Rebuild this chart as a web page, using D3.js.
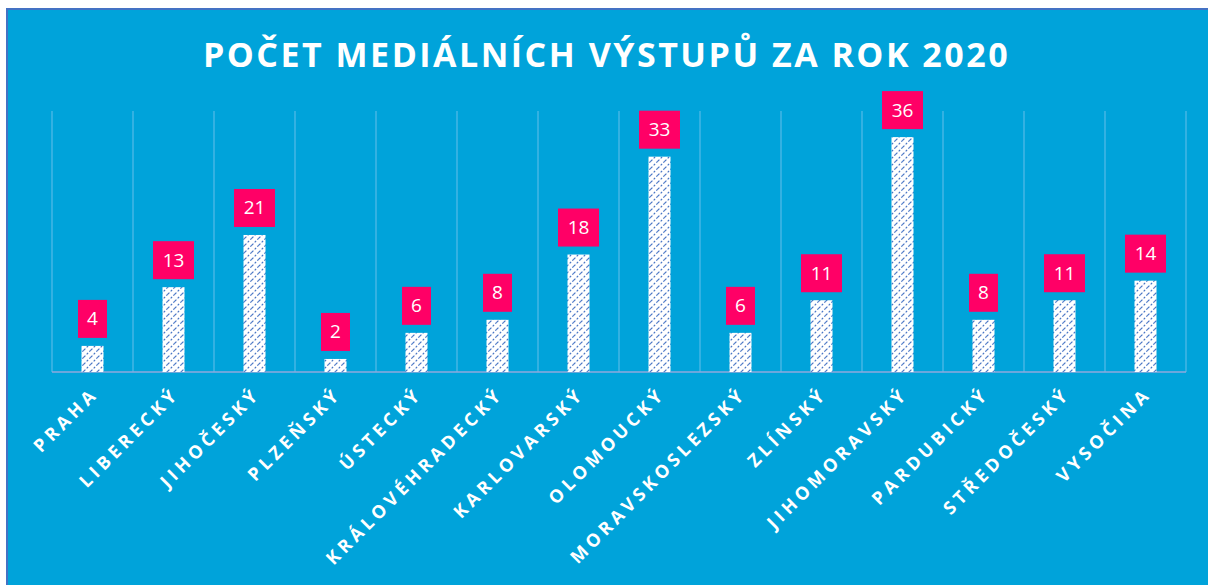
<!DOCTYPE html>
<html><head><meta charset="utf-8">
<script src="https://cdn.jsdelivr.net/npm/d3@7"></script>
<style>html,body{margin:0;padding:0;background:#fff;}svg{display:block;}</style>
</head><body>
<svg id="chart" width="1208" height="585"></svg>
<script>
const categories = ["PRAHA","LIBERECKÝ","JIHOČESKÝ","PLZEŇSKÝ","ÚSTECKÝ","KRÁLOVÉHRADECKÝ","KARLOVARSKÝ","OLOMOUCKÝ","MORAVSKOSLEZSKÝ","ZLÍNSKÝ","JIHOMORAVSKÝ","PARDUBICKÝ","STŘEDOČESKÝ","VYSOČINA"];
const values = [4,13,21,2,6,8,18,33,6,11,36,8,11,14];
const title = "POČET MEDIÁLNÍCH VÝSTUPŮ ZA ROK 2020";

const svg = d3.select("#chart");
const W = 1208, H = 585;
const bg = "#00A3DA";
const pink = "#FF0066";
const defs = svg.append("defs");
const pat = defs.append("pattern").attr("id","hatch").attr("patternUnits","userSpaceOnUse")
  .attr("width",7).attr("height",7);
pat.append("rect").attr("width",7).attr("height",7).attr("fill","#fff");
pat.append("path").attr("d","M0,7 L7,0 M-1,1 L1,-1 M6,8 L8,6")
  .attr("stroke","#4472C4").attr("stroke-width",1.2).attr("stroke-dasharray","2,1.8");

svg.append("rect").attr("x",6).attr("y",8).attr("width",W).attr("height",H).attr("fill",bg);
svg.append("line").attr("x1",7).attr("x2",7).attr("y1",8).attr("y2",H).attr("stroke","#4472C4").attr("stroke-width",2);
svg.append("line").attr("x1",6).attr("x2",W).attr("y1",9).attr("y2",9).attr("stroke","#4472C4").attr("stroke-width",2);

const x = d3.scaleBand().domain(categories).range([52,1186]).paddingInner(0).paddingOuter(0);
const y = d3.scaleLinear().domain([0,40]).range([372,111]);

const bounds = categories.map(c=>x(c)).concat([x.range()[1]]);
svg.append("g").selectAll("line").data(bounds).join("line")
  .attr("x1",d=>d).attr("x2",d=>d).attr("y1",y(40)).attr("y2",y(0))
  .attr("stroke","#45B6E4").attr("stroke-width",1.5);

svg.append("line").attr("x1",x.range()[0]).attr("x2",x.range()[1]).attr("y1",y(0)).attr("y2",y(0))
  .attr("stroke","#8FA9DD").attr("stroke-width",1.5);

const bw = 22;
svg.append("g").selectAll("rect").data(values).join("rect")
  .attr("x",(d,i)=>x(categories[i])+x.bandwidth()/2-bw/2)
  .attr("y",d=>y(d)).attr("width",bw).attr("height",d=>y(0)-y(d))
  .attr("fill","url(#hatch)");

const lg = svg.append("g").selectAll("g").data(values).join("g")
  .attr("transform",(d,i)=>`translate(${x(categories[i])+x.bandwidth()/2},${y(d)-8})`);
lg.append("rect").attr("x",d=>d>=10?-20.5:-14.5).attr("width",d=>d>=10?41:29)
  .attr("y",-38).attr("height",38).attr("fill",pink);
lg.append("text").attr("y",-12.5).attr("text-anchor","middle").attr("fill","#fff")
  .attr("font-family","Open Sans").attr("font-size",19).text(d=>d);

svg.append("g").selectAll("text").data(categories).join("text")
  .attr("transform",d=>`translate(${x(d)+x.bandwidth()/2+7},${395}) rotate(-45)`)
  .attr("text-anchor","end").attr("fill","#fff")
  .attr("font-family","Open Sans").attr("font-weight","bold").attr("font-size",18)
  .attr("letter-spacing",4.2).text(d=>d);

svg.append("text").attr("x",606.5).attr("y",67).attr("text-anchor","middle")
  .attr("fill","#fff").attr("font-family","Open Sans").attr("font-weight","bold")
  .attr("font-size",34).attr("letter-spacing",2.5).text(title);
</script>
</body></html>
